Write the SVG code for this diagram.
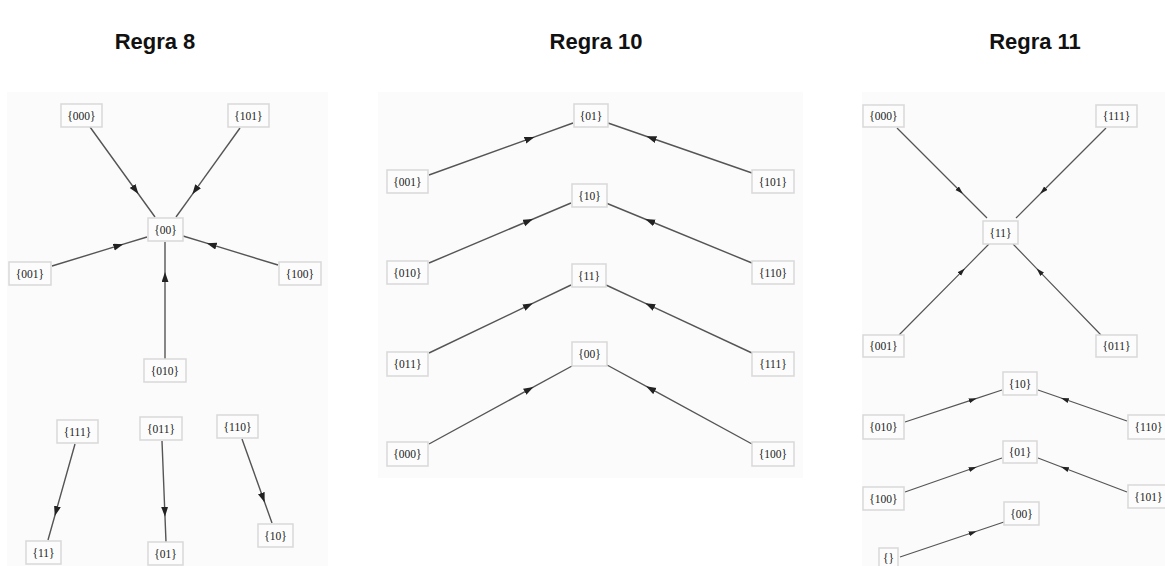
<svg xmlns="http://www.w3.org/2000/svg" width="1165" height="566" viewBox="0 0 1165 566">
  <style>
    .title { font-family: "Liberation Sans", Arial, sans-serif; font-weight: bold; font-size: 22px; fill: #111; text-anchor: middle; }
    .panel { fill: #fbfbfb; stroke: none; }
    .node rect { fill: #fcfcfc; stroke: #d9d9d9; stroke-width: 1.5; }
    .node text { font-family: "Liberation Serif", "Times New Roman", serif; font-size: 11.5px; fill: #222; text-anchor: middle; }
    .edge { fill: none; stroke: #555; stroke-width: 1.4; marker-mid: url(#arrow); }
    .edge.thin { stroke-width: 1.2; marker-mid: url(#arrowSmall); }
  </style>
  <defs>
    <marker id="arrow" markerUnits="userSpaceOnUse" markerWidth="12" markerHeight="8" refX="5" refY="3.5" orient="auto">
      <path d="M0,0 L10,3.5 L0,7 z" fill="#222"/>
    </marker>
    <marker id="arrowSmall" markerUnits="userSpaceOnUse" markerWidth="10" markerHeight="6" refX="4" refY="2.5" orient="auto">
      <path d="M0,0 L8,2.5 L0,5 z" fill="#222"/>
    </marker>
  </defs>

  <rect width="1165" height="566" fill="#ffffff"/>

  <!-- titles -->
  <text class="title" x="155" y="49">Regra 8</text>
  <text class="title" x="596" y="49">Regra 10</text>
  <text class="title" x="1035" y="49">Regra 11</text>

  <!-- panel backgrounds -->
  <rect class="panel" x="7" y="92" width="321" height="474"/>
  <rect class="panel" x="378" y="92" width="425" height="386"/>
  <rect class="panel" x="862" y="92" width="303" height="474"/>

  <!-- connectors -->
  <g id="connectors">
    <!-- Regra 8 -->
    <path class="edge" d="M90,127 L135.5,190 L155,217"/>
    <path class="edge" d="M240,128 L195.2,190.3 L176,217"/>
    <path class="edge" d="M52,266 L118.5,245.7 L147,237"/>
    <path class="edge" d="M278,265 L211.5,244.7 L183,236"/>
    <path class="edge" d="M165,359 L165,277.1 L165,242"/>
    <path class="edge" d="M75,444 L56.1,511.2 L48,540"/>
    <path class="edge" d="M162,441 L164.8,511.7 L166,542"/>
    <path class="edge" d="M242,439 L263,497.8 L272,523"/>
    <!-- Regra 10 -->
    <path class="edge" d="M429,175 L529.8,138.6 L573,123"/>
    <path class="edge" d="M752,173 L651.2,138 L608,123"/>
    <path class="edge" d="M429,263 L528.4,221 L571,203"/>
    <path class="edge" d="M752,263 L649.8,221 L606,203"/>
    <path class="edge" d="M429,353 L528.4,305.4 L571,285"/>
    <path class="edge" d="M752,353 L649.8,305.4 L606,285"/>
    <path class="edge" d="M429,444 L529.1,389.4 L572,366"/>
    <path class="edge" d="M752,444 L650.5,388.7 L607,365"/>
    <!-- Regra 11 -->
    <path class="edge thin" d="M897,128 L960,191 L987,218"/>
    <path class="edge thin" d="M1106,128 L1043,191 L1016,218"/>
    <path class="edge thin" d="M899,335 L962,271.3 L989,244"/>
    <path class="edge thin" d="M1101,335 L1039.4,271.3 L1013,244"/>
    <path class="edge thin" d="M905,422 L972.9,399.6 L1002,390"/>
    <path class="edge thin" d="M1127,421 L1064.7,399.3 L1038,390"/>
    <path class="edge thin" d="M905,492 L972.9,468.2 L1002,458"/>
    <path class="edge thin" d="M1127,492 L1064.7,468.2 L1038,458"/>
    <path class="edge thin" d="M900,557 L972.8,532.5 L1004,522"/>
  </g>

  <!-- Regra 8 nodes -->
  <g id="r8-000" class="node"><rect x="61" y="104" width="41" height="23"/><text x="81.5" y="119.5">{000}</text></g>
  <g id="r8-101" class="node"><rect x="228" y="104" width="41" height="23"/><text x="248.5" y="119.5">{101}</text></g>
  <g id="r8-00" class="node"><rect x="148" y="218" width="35" height="23"/><text x="165.5" y="233.5">{00}</text></g>
  <g id="r8-001" class="node"><rect x="9" y="262" width="42" height="23"/><text x="30" y="277.5">{001}</text></g>
  <g id="r8-100" class="node"><rect x="279" y="262" width="42" height="23"/><text x="300" y="277.5">{100}</text></g>
  <g id="r8-010" class="node"><rect x="144" y="359" width="42" height="23"/><text x="165" y="374.5">{010}</text></g>
  <g id="r8-111" class="node"><rect x="57" y="420" width="41" height="23"/><text x="77.5" y="435.5">{111}</text></g>
  <g id="r8-011" class="node"><rect x="140" y="417" width="42" height="23"/><text x="161" y="432.5">{011}</text></g>
  <g id="r8-110" class="node"><rect x="217" y="415" width="41" height="23"/><text x="237.5" y="430.5">{110}</text></g>
  <g id="r8-11" class="node"><rect x="26" y="541" width="35" height="23"/><text x="43.5" y="556.5">{11}</text></g>
  <g id="r8-01" class="node"><rect x="148" y="542" width="35" height="23"/><text x="165.5" y="557.5">{01}</text></g>
  <g id="r8-10" class="node"><rect x="258" y="524" width="35" height="23"/><text x="275.5" y="539.5">{10}</text></g>

  <!-- Regra 10 nodes -->
  <g id="r10-01" class="node"><rect x="574" y="104" width="34" height="23"/><text x="591" y="119.5">{01}</text></g>
  <g id="r10-001" class="node"><rect x="387" y="170" width="41" height="23"/><text x="407.5" y="185.5">{001}</text></g>
  <g id="r10-101" class="node"><rect x="752" y="170" width="42" height="23"/><text x="773" y="185.5">{101}</text></g>
  <g id="r10-10" class="node"><rect x="572" y="184" width="35" height="23"/><text x="589.5" y="199.5">{10}</text></g>
  <g id="r10-010" class="node"><rect x="387" y="261" width="41" height="23"/><text x="407.5" y="276.5">{010}</text></g>
  <g id="r10-110" class="node"><rect x="752" y="261" width="42" height="23"/><text x="773" y="276.5">{110}</text></g>
  <g id="r10-11" class="node"><rect x="572" y="264" width="34" height="23"/><text x="589" y="279.5">{11}</text></g>
  <g id="r10-011" class="node"><rect x="387" y="352" width="41" height="24"/><text x="407.5" y="368">{011}</text></g>
  <g id="r10-111" class="node"><rect x="752" y="352" width="42" height="24"/><text x="773" y="368">{111}</text></g>
  <g id="r10-00" class="node"><rect x="572" y="342" width="35" height="24"/><text x="589.5" y="358">{00}</text></g>
  <g id="r10-000" class="node"><rect x="387" y="442" width="41" height="24"/><text x="407.5" y="458">{000}</text></g>
  <g id="r10-100" class="node"><rect x="752" y="442" width="42" height="24"/><text x="773" y="458">{100}</text></g>

  <!-- Regra 11 nodes -->
  <g id="r11-000" class="node"><rect x="863" y="105" width="41" height="22"/><text x="883.5" y="120">{000}</text></g>
  <g id="r11-111" class="node"><rect x="1096" y="105" width="41" height="22"/><text x="1116.5" y="120">{111}</text></g>
  <g id="r11-11" class="node"><rect x="983" y="221" width="35" height="23"/><text x="1000.5" y="236.5">{11}</text></g>
  <g id="r11-001" class="node"><rect x="863" y="335" width="41" height="22"/><text x="883.5" y="350">{001}</text></g>
  <g id="r11-011" class="node"><rect x="1096" y="335" width="41" height="22"/><text x="1116.5" y="350">{011}</text></g>
  <g id="r11-10" class="node"><rect x="1003" y="372" width="34" height="23"/><text x="1020" y="387.5">{10}</text></g>
  <g id="r11-010" class="node"><rect x="863" y="415" width="41" height="24"/><text x="883.5" y="431">{010}</text></g>
  <g id="r11-110" class="node"><rect x="1128" y="415" width="41" height="24"/><text x="1148.5" y="431">{110}</text></g>
  <g id="r11-01" class="node"><rect x="1003" y="441" width="34" height="22"/><text x="1020" y="456">{01}</text></g>
  <g id="r11-100" class="node"><rect x="863" y="487" width="41" height="23"/><text x="883.5" y="502.5">{100}</text></g>
  <g id="r11-101" class="node"><rect x="1128" y="485" width="41" height="23"/><text x="1148.5" y="500.5">{101}</text></g>
  <g id="r11-00" class="node"><rect x="1004" y="502" width="35" height="23"/><text x="1021.5" y="517.5">{00}</text></g>
  <g id="r11-empty" class="node"><rect x="879" y="548" width="19" height="22"/><text x="888.5" y="562">{}</text></g>
</svg>
